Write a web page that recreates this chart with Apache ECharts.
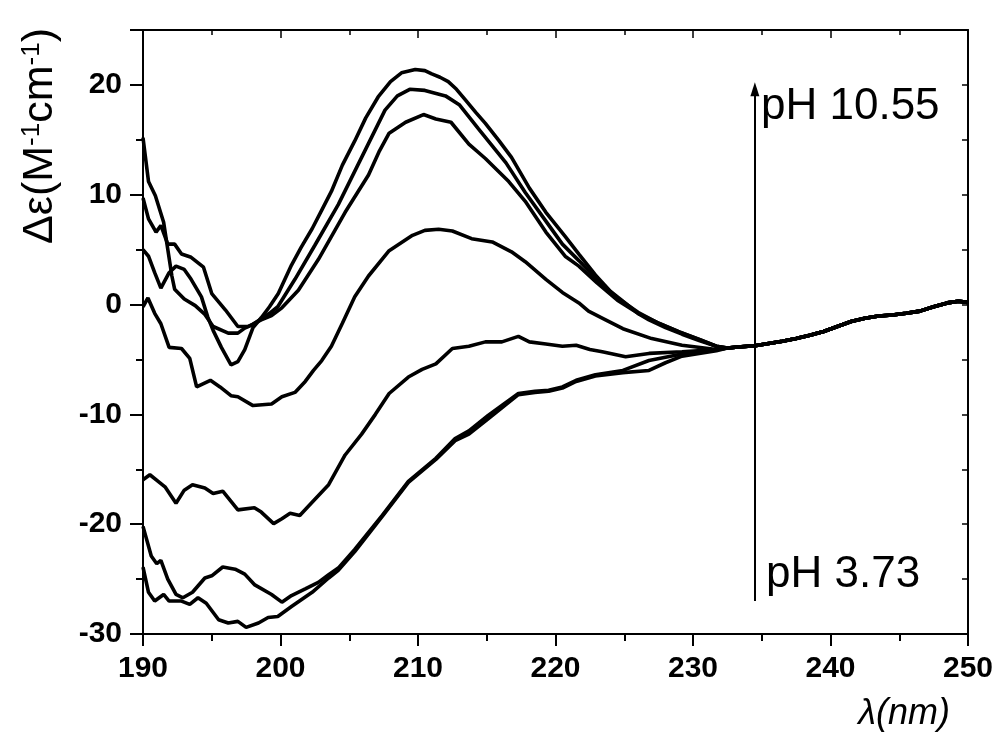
<!DOCTYPE html>
<html><head><meta charset="utf-8">
<script src="https://cdn.jsdelivr.net/npm/echarts@6/dist/echarts.min.js"></script>
<style>html,body{margin:0;padding:0;background:#fff}#c{width:1000px;height:733px}</style>
</head><body><div id="c"></div>
<script>
// ---- data (wavelength nm, Δε) ----
const xTicks = [190, 200, 210, 220, 230, 240, 250];
const yTicks = [-30, -20, -10, 0, 10, 20];
const tail = [[232.5,-3.95],[233.5,-3.85],[234.5,-3.75],[235.5,-3.55],[236.5,-3.35],[237.5,-3.1],[238.5,-2.8],[239.5,-2.45],[240.5,-2.0],[241.5,-1.55],[242.5,-1.25],[243.5,-1.05],[244.5,-0.95],[245.5,-0.8],[246.5,-0.6],[247.5,-0.2],[248.5,0.15],[249.3,0.3],[250,0.2]];
const c1 = [[190,5.0],[190.4,4.4],[190.85,2.9],[191.3,1.5],[191.9,2.9],[192.4,3.5],[193.0,3.2],[193.5,2.3],[194.25,0.7],[194.7,-1.1],[195.1,-2.35],[195.7,-3.9],[196.4,-5.5],[196.9,-5.2],[197.4,-4.1],[198.0,-2.1],[198.6,-1.2],[199.2,-0.2],[199.84,1.0],[200.8,3.6],[201.5,5.2],[202.3,6.9],[203.0,8.6],[203.7,10.3],[204.5,12.7],[205.4,14.9],[206.2,17.0],[207.1,18.9],[208.0,20.3],[208.8,21.1],[209.8,21.4],[210.5,21.3],[211.0,21.0],[211.6,20.7],[212.2,20.3],[212.8,19.6],[213.4,18.7],[214.2,17.5],[214.9,16.5],[215.9,14.9],[216.8,13.4],[218.1,10.6],[219.3,8.4],[220.7,6.2],[221.7,4.6],[222.9,2.7],[224.0,1.2],[224.9,0.3],[226.0,-0.8],[226.8,-1.4],[228.0,-2.1],[229.2,-2.7],[230.5,-3.3],[231.7,-3.8]];
const c2 = [[190,15.2],[190.4,11.2],[190.9,9.9],[191.5,7.5],[192.1,2.6],[192.3,1.4],[193.0,0.5],[193.8,-0.1],[194.5,-0.9],[195.1,-2.0],[196.2,-2.6],[196.9,-2.6],[197.4,-2.15],[198.0,-1.8],[198.6,-1.3],[199.2,-0.8],[199.8,-0.2],[201.05,2.3],[202.5,5.4],[204.2,9.1],[205.9,13.4],[207.6,17.7],[208.5,19.0],[209.4,19.6],[210.5,19.5],[212.0,19.0],[213.0,18.2],[214.4,16.0],[216.4,12.9],[217.8,10.2],[219.3,7.6],[220.5,5.5],[221.7,4.0],[223.0,2.3],[224.5,0.6],[226.0,-0.7],[227.5,-1.7],[229.0,-2.5],[230.5,-3.2],[231.7,-3.8]];
const c3 = [[190,9.7],[190.4,7.8],[190.95,6.6],[191.3,7.2],[191.8,5.5],[192.3,5.5],[192.8,4.6],[193.5,4.3],[194.4,3.4],[195.0,1.0],[196.0,-0.5],[196.9,-2.0],[197.65,-2.0],[198.6,-1.4],[199.35,-1.0],[200.1,-0.3],[201.3,1.3],[202.75,4.1],[204.7,8.4],[206.4,11.8],[207.2,14.0],[207.9,15.6],[209.1,16.6],[210.4,17.3],[211.3,16.9],[212.4,16.6],[213.7,14.6],[214.9,13.3],[216.6,11.2],[217.8,9.4],[219.3,6.6],[220.7,4.4],[221.7,3.5],[223.0,2.0],[224.5,0.4],[226.0,-0.8],[227.5,-1.7],[229.0,-2.5],[230.5,-3.2],[231.7,-3.8]];
const c4 = [[190,-0.2],[190.36,0.6],[190.85,-0.8],[191.3,-1.75],[191.9,-3.9],[192.8,-4.0],[193.4,-4.9],[193.9,-7.5],[194.9,-6.9],[195.6,-7.5],[196.4,-8.3],[196.9,-8.4],[198.0,-9.2],[199.35,-9.05],[200.1,-8.4],[201.05,-8.0],[201.8,-7.0],[202.4,-6.0],[203.0,-5.1],[203.7,-3.8],[204.5,-1.7],[205.4,0.7],[206.4,2.6],[207.9,4.9],[209.6,6.3],[210.5,6.75],[211.5,6.85],[212.5,6.7],[213.9,6.0],[215.4,5.7],[216.8,4.8],[217.8,3.9],[219.3,2.3],[220.5,1.1],[221.7,0.15],[222.4,-0.6],[223.5,-1.3],[224.9,-2.2],[227.0,-3.1],[229.2,-3.7],[231.7,-4.1]];
const c5 = [[190,-15.95],[190.5,-15.5],[191.1,-16.1],[191.6,-16.6],[192.4,-18.1],[193.0,-16.9],[193.6,-16.4],[194.5,-16.7],[195.1,-17.2],[195.8,-17.0],[196.9,-18.7],[198.1,-18.5],[198.6,-18.9],[199.5,-19.95],[200.1,-19.5],[200.7,-19.0],[201.4,-19.2],[202.3,-18.0],[203.5,-16.4],[204.7,-13.7],[205.9,-11.8],[206.9,-10.0],[207.9,-8.1],[209.3,-6.6],[210.3,-5.9],[211.3,-5.4],[212.5,-4.0],[213.7,-3.8],[214.9,-3.4],[216.1,-3.4],[217.3,-2.9],[218.1,-3.4],[219.3,-3.6],[220.5,-3.8],[221.5,-3.7],[222.5,-4.1],[223.4,-4.3],[225.1,-4.75],[226.8,-4.45],[229.2,-4.3],[231.7,-4.1]];
const c6 = [[190,-20.2],[190.6,-22.9],[191.0,-23.6],[191.3,-23.3],[191.8,-25.0],[192.4,-26.4],[192.9,-26.7],[193.6,-26.2],[194.5,-24.9],[195.0,-24.7],[195.8,-23.9],[196.7,-24.1],[197.4,-24.55],[198.1,-25.5],[199.35,-26.4],[200.1,-27.1],[200.8,-26.5],[201.8,-25.9],[202.75,-25.3],[203.5,-24.6],[204.2,-24.0],[205.4,-22.3],[207.4,-19.2],[209.3,-16.1],[211.3,-14.0],[212.7,-12.2],[213.7,-11.5],[215.1,-10.1],[216.3,-9.0],[217.3,-8.1],[218.5,-7.9],[219.5,-7.8],[220.5,-7.5],[221.5,-6.9],[222.9,-6.4],[224.9,-6.0],[226.8,-5.1],[229.2,-4.5],[231.7,-4.1]];
const c7 = [[190,-23.9],[190.4,-26.2],[190.85,-27.0],[191.5,-26.4],[191.9,-27.0],[192.8,-27.0],[193.4,-27.3],[194.0,-26.7],[194.6,-27.2],[195.5,-28.7],[196.2,-29.0],[196.9,-28.85],[197.5,-29.4],[198.4,-29.0],[199.1,-28.5],[199.8,-28.4],[200.8,-27.5],[202.3,-26.2],[203.5,-24.9],[204.2,-24.2],[205.4,-22.5],[207.4,-19.3],[209.3,-16.2],[211.3,-14.1],[212.7,-12.4],[213.7,-11.8],[215.1,-10.4],[216.3,-9.2],[217.3,-8.2],[218.5,-8.0],[219.5,-7.9],[220.5,-7.6],[221.5,-7.0],[222.9,-6.5],[224.9,-6.2],[226.8,-6.0],[228.0,-5.3],[229.2,-4.7],[231.7,-4.2]];
const curves = [c1, c2, c3, c4, c5, c6, c7];
const arrowX = 234.5, arrowFrom = -27.0, arrowTo = 19.6;
const labelHigh = 'pH 10.55', labelLow = 'pH 3.73';

const chart = echarts.init(document.getElementById('c'), null, {renderer: 'canvas'});
const F = 'Liberation Sans, Arial, Helvetica, sans-serif';
const tickLbl = {color: '#000', fontFamily: F, fontWeight: 'bold', fontSize: 30};
const series = curves.map((c, i) => ({
  type: 'line', data: c.concat(tail), showSymbol: false, symbol: 'none', smooth: false,
  lineStyle: {color: '#000', width: 3.6}, z: 3, silent: true
}));
series[0].markLine = {
  silent: true, symbol: ['none', 'triangle'], symbolSize: [9, 14], label: {show: false},
  lineStyle: {color: '#000', width: 2, type: 'solid'},
  data: [[{coord: [arrowX, arrowFrom]}, {coord: [arrowX, arrowTo]}]]
};
const common = {min: -30, max: 25, axisLine: {show: true, onZero: false, lineStyle: {color: '#000', width: 2}}, splitLine: {show: false}};
chart.setOption({
  animation: false,
  backgroundColor: '#fff',
  grid: {left: 143, right: 32, top: 30, bottom: 99, containLabel: false},
  xAxis: [
    {type: 'value', min: xTicks[0], max: xTicks[xTicks.length - 1], interval: 10, position: 'bottom',
     axisLine: {show: true, onZero: false, lineStyle: {color: '#000', width: 2}},
     axisTick: {show: true, inside: false, length: 12, lineStyle: {color: '#000', width: 2}},
     minorTick: {show: true, splitNumber: 2, length: 7, lineStyle: {color: '#000', width: 2}},
     axisLabel: Object.assign({margin: 20, showMinLabel: true, showMaxLabel: true}, tickLbl),
     splitLine: {show: false}},
    {type: 'value', min: xTicks[0], max: xTicks[xTicks.length - 1], interval: 10, position: 'top',
     axisLine: {show: true, onZero: false, lineStyle: {color: '#000', width: 2}},
     axisTick: {show: true, inside: true, length: 8, lineStyle: {color: '#000', width: 1.5}},
     minorTick: {show: true, splitNumber: 2, length: 5, lineStyle: {color: '#000', width: 1.5}},
     axisLabel: {show: false}, splitLine: {show: false}}
  ],
  yAxis: [
    Object.assign({type: 'value', interval: 5, position: 'left',
     axisTick: {show: true, inside: false, length: 7, lineStyle: {color: '#000', width: 2}},
     axisLabel: Object.assign({margin: 21, formatter: v => (yTicks.indexOf(v) >= 0 ? String(v) : '')}, tickLbl)}, common),
    Object.assign({type: 'value', interval: 10, position: 'left',
     axisTick: {show: true, inside: false, length: 13, lineStyle: {color: '#000', width: 2}},
     axisLabel: {show: false}}, common),
    Object.assign({type: 'value', interval: 5, position: 'right',
     axisTick: {show: true, inside: true, length: 6, lineStyle: {color: '#000', width: 1.5}},
     axisLabel: {show: false}}, common)
  ],
  series: series,
  graphic: [
    {type: 'text', x: 761, y: 107, style: {text: labelHigh, fill: '#000', font: '44px ' + F, verticalAlign: 'middle', align: 'left'}, z: 10},
    {type: 'text', x: 766, y: 575, style: {text: labelLow, fill: '#000', font: '44px ' + F, verticalAlign: 'middle', align: 'left'}, z: 10},
    {type: 'text', x: 950, y: 714, style: {text: 'λ(nm)', fill: '#000', font: 'italic 36px ' + F, verticalAlign: 'middle', align: 'right'}, z: 10},
    {type: 'text', x: 40, y: 136, rotation: Math.PI / 2,
     style: {text: '{n|Δε(M}{s|-1}{n|cm}{s|-1}{n|)}', fill: '#000', align: 'center', verticalAlign: 'middle',
       rich: {n: {fontFamily: F, fontSize: 43, fill: '#000', verticalAlign: 'bottom'},
              s: {fontFamily: F, fontSize: 26, fill: '#000', verticalAlign: 'top'}}}, z: 10}
  ]
});
</script></body></html>
